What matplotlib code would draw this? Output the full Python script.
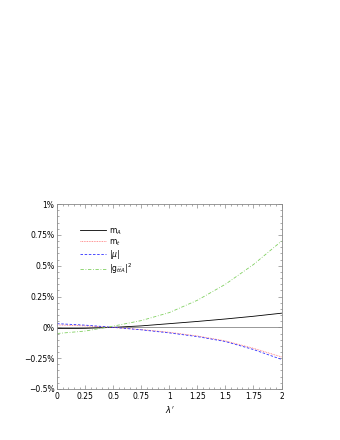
import matplotlib
matplotlib.use('Agg')
import matplotlib.pyplot as plt
from matplotlib.ticker import MultipleLocator, FuncFormatter

lam = [0, 0.25, 0.5, 0.75, 1.0, 1.25, 1.5, 1.75, 2.0]
m_A = [-0.010, -0.008, 0.000, 0.012, 0.030, 0.048, 0.068, 0.090, 0.115]
m_t = [0.020, 0.012, 0.000, -0.018, -0.040, -0.070, -0.110, -0.170, -0.240]
mu = [0.030, 0.018, 0.000, -0.020, -0.045, -0.075, -0.115, -0.180, -0.260]
g2 = [-0.050, -0.030, 0.010, 0.055, 0.120, 0.220, 0.350, 0.510, 0.700]
labels = [r'm$_A$', r'm$_t$', r'|$\mu$|', r'|g$_{\tilde t\tilde tA}$|$^2$']

fig = plt.figure(figsize=(3.4, 4.4), dpi=100)
ax = fig.add_axes([0.168, 0.116, 0.66, 0.42])

fs = 5.5
ax.axhline(0, color='#888888', lw=0.6)
ax.plot(lam, m_A, color='black', lw=0.6, label=labels[0])
ax.plot(lam, m_t, color='#ff7070', lw=0.6, ls=(0, (1, 1)), label=labels[1])
ax.plot(lam, mu, color='#3030ff', lw=0.6, ls=(0, (3, 2)), label=labels[2])
ax.plot(lam, g2, color='#80d060', lw=0.6, ls=(0, (4, 2, 1, 2)), label=labels[3])

ax.set_xlim(0, 2)
ax.set_ylim(-0.5, 1.0)
ax.xaxis.set_major_locator(MultipleLocator(0.25))
ax.xaxis.set_minor_locator(MultipleLocator(0.05))
ax.yaxis.set_major_locator(MultipleLocator(0.25))
ax.yaxis.set_minor_locator(MultipleLocator(0.05))
ax.xaxis.set_major_formatter(FuncFormatter(lambda v, p: f'{v:g}'))
ax.yaxis.set_major_formatter(FuncFormatter(lambda v, p: f'{v:g}%'.replace('-', '\u2212')))
ax.tick_params(which='both', direction='in', top=True, right=True, color='#888888',
               labelsize=fs, width=0.5, pad=2)
ax.tick_params(which='major', length=3)
ax.tick_params(which='minor', length=1.5)
for s in ax.spines.values():
    s.set_color('#888888')
    s.set_linewidth(0.6)

ax.set_xlabel(r"$\lambda'$", fontsize=fs + 0.5, labelpad=2)
ax.legend(loc='upper left', bbox_to_anchor=(0.08, 0.91), frameon=False, fontsize=fs,
          handlelength=3.4, handletextpad=0.3, labelspacing=0.05, borderpad=0.2)

plt.savefig('out.png', dpi=100)
